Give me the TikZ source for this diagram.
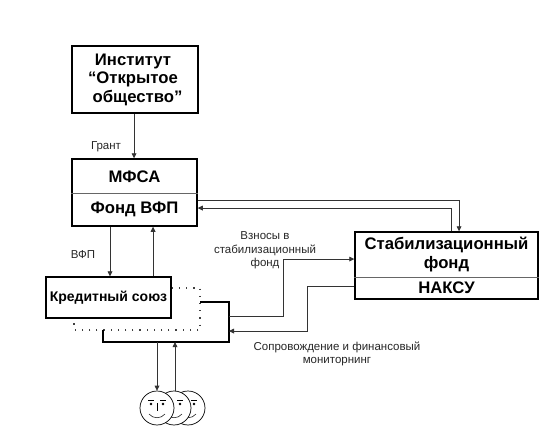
\documentclass[tikz,border=0pt]{standalone}
\usepackage{fontspec}
\setmainfont{Liberation Sans}
\usetikzlibrary{arrows.meta,calc}

\tikzset{
    bigbox/.style={draw,line width=1.5pt,inner sep=0pt},
    bigtext/.style={font=\bfseries\fontsize{16.7}{18.5}\selectfont,align=center,inner sep=0pt},
    cutline/.style={line width=.8pt,draw=black!60},
    smalltext/.style={font=\fontsize{11.5}{13.5}\selectfont,align=center,inner sep=0pt,text=black!85},
    link/.style={line width=.8pt,draw=black!80},
    facecircle/.style={circle,draw,fill=white,minimum size=34pt,inner sep=0pt,line width=.7pt},
}

\begin{document}
\begin{tikzpicture}[x=1pt,y=-1pt,>={Kite[inset=0pt,length=5pt,width=5pt]}]
    \useasboundingbox (0,0) rectangle (550,439);

    % boxes
    \node[bigbox,minimum width=126pt,minimum height=67pt] (institute) at (135,79.5)
        {};
    \node[bigtext] (institutetext) at (133,79.5) {Институт\\“Открытое\\\hspace*{9pt}общество”};
    \node[bigbox,minimum width=125pt,minimum height=67pt] (mfsa) at (134.5,192.5) {};
    \node[bigtext] (mfsatext) at (134.5,176.5) {МФСА};
    \node[bigtext] (fundtext) at (134.5,209) {Фонд ВФП};
    \draw[cutline] (mfsa.west |- 0,193) -- (mfsa.east |- 0,193);
    \node[bigbox,minimum width=125pt,minimum height=41pt] (union) at (108.5,297.5) {};
    \node[bigtext,font=\bfseries\fontsize{14}{15}\selectfont] (uniontext) at (108.5,297.5) {Кредитный союз};
    \node[bigbox,minimum width=183pt,minimum height=67pt] (stab) at (446.5,265.5) {};
    \node[bigtext] (stabtext) at (446.5,254.5) {Стабилизационный\\фонд};
    \node[bigtext] (nacstext) at (446.5,288) {НАКСУ};
    \draw[cutline] (stab.west |- 0,277) -- (stab.east |- 0,277);

    % stacked boxes behind the credit union
    \coordinate (shelf) at (229,342);
    \draw[line width=1.2pt,black!75,dash pattern=on 1.2pt off 6pt] (union.east |- 0,288) -- (200,288) -- (200,330) -- (74,330) -- (74,322);
    \draw[line width=1.5pt] (200,302) -- (shelf |- 0,302) -- (shelf) -- (103,342) -- (103,330);

    % faces
    \foreach \name/\x in {face3/188,face2/174,face1/157}{%
        \node[facecircle] (\name) at (\x,408) {};
        \fill (\x-6,404) circle (1.4pt) (\x+6,404) circle (1.4pt);
        \draw[line width=.5pt] (\x-9,400.5) -- (\x-3,400.5) (\x+3,400.5) -- (\x+9,400.5);
        \draw[line width=.5pt] (\x-8,414) .. controls (\x-4,419) and (\x+4,419) .. (\x+8,414);
    }
    \draw[line width=.5pt] (157,403) -- (157,411);

    % connectors
    \draw[link,->] (institute.south -| 134,0) -- (mfsa.north -| 134,0);
    \draw[link,->] (mfsa.south -| 110,0) -- (union.north -| 110,0);
    \draw[link,->] (union.north -| 153,0) -- (mfsa.south -| 153,0);
    \draw[link,->] (mfsa.east |- 0,200) -- (459,200) -- (stab.north -| 459,0);
    \draw[link,->] (stab.north -| 451,0) -- (451,208) -- (mfsa.east |- 0,208);
    \draw[link,->] (shelf |- 0,316) -- (283,316) -- (283,259) -- (stab.west |- 0,259);
    \draw[link,->] (stab.west |- 0,286) -- (307,286) -- (307,331) -- (shelf |- 0,331);
    \draw[link,->] (157,342) -- (face1.north);
    \draw[link,->] (face2.north -| 175,0) -- (175,342);

    % labels
    \node[smalltext] (grant) at (106,147) {Грант};
    \node[smalltext] (vfp) at (83,254.5) {ВФП};
    \node[smalltext] (fees) at (265,250.5) {Взносы в\\стабилизационный\\фонд};
    \node[smalltext] (support) at (337,354) {Сопровождение и финансовый\\мониторнинг};
\end{tikzpicture}
\end{document}
